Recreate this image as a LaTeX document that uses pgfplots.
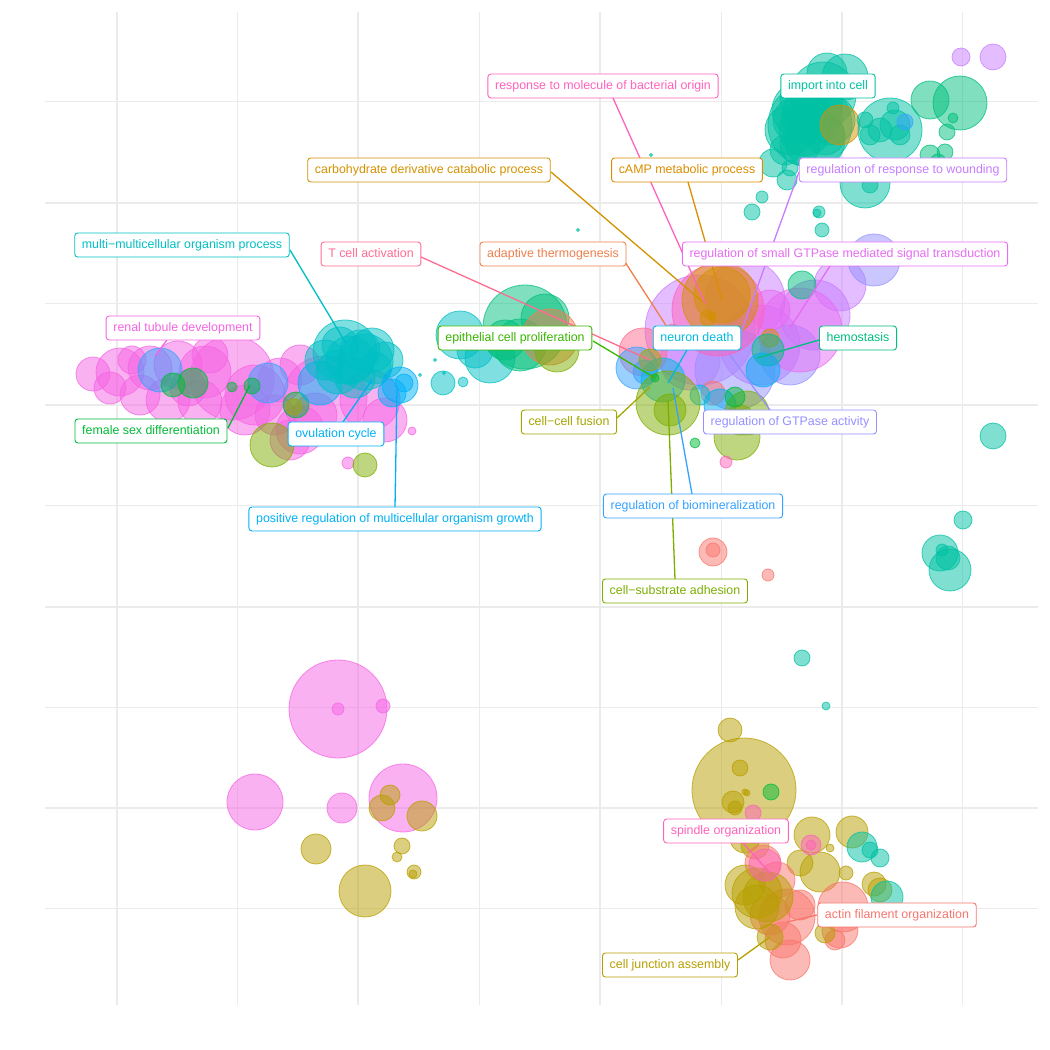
\documentclass[border=0pt]{standalone}
\usepackage{pgfplots}
\pgfplotsset{compat=1.18}
\usepackage{fontspec}
\setmainfont{Liberation Sans}
\definecolor{gridc}{HTML}{EBEBEB}
\definecolor{cSal}{HTML}{F8766D}
\definecolor{cOra}{HTML}{EE7F4B}
\definecolor{cGold}{HTML}{D39200}
\definecolor{cCamp}{HTML}{DB8E00}
\definecolor{cOlv}{HTML}{B79F00}
\definecolor{cFus}{HTML}{A3A500}
\definecolor{cSub}{HTML}{7CAE00}
\definecolor{cEpi}{HTML}{39B600}
\definecolor{cFem}{HTML}{00BA38}
\definecolor{cHem}{HTML}{00BF7D}
\definecolor{cImp}{HTML}{00C1A3}
\definecolor{cMul}{HTML}{00BFC4}
\definecolor{cNeu}{HTML}{00BAE0}
\definecolor{cOvu}{HTML}{00B0F6}
\definecolor{cBio}{HTML}{35A2FF}
\definecolor{cGtp}{HTML}{9590FF}
\definecolor{cWou}{HTML}{C77CFF}
\definecolor{cSma}{HTML}{E76BF3}
\definecolor{cRen}{HTML}{F564E3}
\definecolor{cBac}{HTML}{FF62BC}
\definecolor{cTce}{HTML}{FF6C91}
\pgfplotsset{bub/.style={scatter, only marks, mark=*, line width=0.8pt,
  scatter/use mapped color={draw=#1, fill=#1, fill opacity=0.5, draw opacity=0.75},
  visualization depends on={\thisrow{r}\as\rr},
  scatter/@pre marker code/.append style={/tikz/mark size=\rr}}}
\tikzset{lab/.style={draw=#1, text=#1, fill=white, rounded corners=3pt, line width=0.9pt,
  font=\fontsize{12.4}{14}\selectfont, inner xsep=7.2pt, inner ysep=0pt,
  minimum height=24pt, text height=9pt, text depth=2.6pt},
  seg/.style={draw=#1, line width=1.3pt}}
\begin{document}
\begin{tikzpicture}
\begin{axis}[x=1pt, y=1pt, xmin=0, xmax=1050, ymin=0, ymax=1050, y dir=reverse,
  hide axis, clip=false, scale only axis, set layers]
\path (axis cs:0,0) rectangle (axis cs:1050,1050);
\begin{pgfonlayer}{axis background}
\draw[gridc, line width=1.0pt] (axis cs:237,12) -- (axis cs:237,1005);
\draw[gridc, line width=1.0pt] (axis cs:479,12) -- (axis cs:479,1005);
\draw[gridc, line width=1.0pt] (axis cs:721,12) -- (axis cs:721,1005);
\draw[gridc, line width=1.0pt] (axis cs:962,12) -- (axis cs:962,1005);
\draw[gridc, line width=1.0pt] (axis cs:45,102) -- (axis cs:1038,102);
\draw[gridc, line width=1.0pt] (axis cs:45,304) -- (axis cs:1038,304);
\draw[gridc, line width=1.0pt] (axis cs:45,506) -- (axis cs:1038,506);
\draw[gridc, line width=1.0pt] (axis cs:45,708) -- (axis cs:1038,708);
\draw[gridc, line width=1.0pt] (axis cs:45,909) -- (axis cs:1038,909);
\draw[gridc, line width=1.9pt] (axis cs:117,12) -- (axis cs:117,1005);
\draw[gridc, line width=1.9pt] (axis cs:358,12) -- (axis cs:358,1005);
\draw[gridc, line width=1.9pt] (axis cs:600,12) -- (axis cs:600,1005);
\draw[gridc, line width=1.9pt] (axis cs:842,12) -- (axis cs:842,1005);
\draw[gridc, line width=1.9pt] (axis cs:45,203) -- (axis cs:1038,203);
\draw[gridc, line width=1.9pt] (axis cs:45,405) -- (axis cs:1038,405);
\draw[gridc, line width=1.9pt] (axis cs:45,607) -- (axis cs:1038,607);
\draw[gridc, line width=1.9pt] (axis cs:45,808) -- (axis cs:1038,808);
\end{pgfonlayer}

% renal / magenta left cluster and bottom-left
\addplot[bub=cRen] table[row sep=\\]{x y r\\
232 378 42\\ 325 398 42\\ 93 374 17\\ 120 372 24\\ 150 368 22\\ 178 365 24\\ 205 372 26\\
110 388 16\\ 140 395 20\\ 168 400 22\\ 200 402 22\\ 255 395 30\\ 280 380 22\\ 300 365 20\\
210 355 18\\ 132 360 14\\ 188 388 18\\ 370 400 30\\ 385 420 22\\ 300 430 24\\ 315 415 22\\
275 415 20\\ 245 410 25\\ 290 440 20\\ 348 463 6\\ 412 431 4\\
338 709 49\\ 338 709 6\\ 383 706 7\\ 255 802 28\\ 342 808 15\\ 403 798 34\\};
\addplot[bub=cBio] table[row sep=\\]{x y r\\ 160 370 22\\ 268 383 20\\};
\addplot[bub=cFem] table[row sep=\\]{x y r\\ 173 385 12\\ 193 383 15\\ 252 386 8\\ 232 387 5\\ 296 405 13\\};
\addplot[bub=cFus] table[row sep=\\]{x y r\\ 294 407 8\\};
\addplot[bub=cSub] table[row sep=\\]{x y r\\ 272 445 22\\ 365 465 12\\};
% multi-multicellular cluster
\addplot[bub=cOvu] table[row sep=\\]{x y r\\ 320 383 22\\};
\addplot[bub=cMul] table[row sep=\\]{x y r\\
345 352 32\\ 365 362 28\\ 372 350 22\\ 385 360 18\\ 338 372 22\\ 355 378 20\\ 325 360 20\\
350 360 24\\ 360 350 20\\ 340 345 18\\ 375 368 16\\};
\addplot[bub=cOvu] table[row sep=\\]{x y r\\ 400 385 18\\ 404 383 9\\ 392 393 14\\};
% epithelial cluster
\addplot[bub=cMul] table[row sep=\\]{x y r\\ 460 335 24\\ 490 358 25\\ 475 350 18\\
443 383 12\\ 463 382 5\\ 420 375 1.5\\ 444 373 1.5\\ 435 360 1.5\\};
\addplot[bub=cHem] table[row sep=\\]{x y r\\ 525 327 42\\ 520 345 26\\ 545 318 24\\ 505 340 20\\};
\addplot[bub=cOra] table[row sep=\\]{x y r\\ 550 337 28\\ 672 330 6\\};
\addplot[bub=cSub] table[row sep=\\]{x y r\\ 557 350 22\\};
% center cluster
\addplot[bub=cWou] table[row sep=\\]{x y r\\
700 330 55\\ 745 300 40\\ 840 285 26\\ 815 315 35\\ 690 360 30\\ 760 345 40\\};
\addplot[bub=cGtp] table[row sep=\\]{x y r\\ 874 260 26\\ 735 370 40\\ 790 355 30\\};
\addplot[bub=cSma] table[row sep=\\]{x y r\\ 800 330 42\\ 770 310 20\\};
\addplot[bub=cBac] table[row sep=\\]{x y r\\ 718 310 46\\};
\addplot[bub=cGold] table[row sep=\\]{x y r\\ 720 300 38\\ 722 295 28\\ 708 318 8\\ 712 316 4\\ 770 338 9\\};
\addplot[bub=cTce] table[row sep=\\]{x y r\\ 643 352 24\\};
\addplot[bub=cSal] table[row sep=\\]{x y r\\ 713 393 12\\};
\addplot[bub=cHem] table[row sep=\\]{x y r\\ 802 285 14\\ 768 350 16\\};
\addplot[bub=cOvu] table[row sep=\\]{x y r\\ 763 370 17\\ 720 405 16\\};
\addplot[bub=cBio] table[row sep=\\]{x y r\\ 637 368 21\\ 645 372 12\\};
\addplot[bub=cNeu] table[row sep=\\]{x y r\\ 663 380 22\\ 700 395 10\\};
\addplot[bub=cFus] table[row sep=\\]{x y r\\ 650 360 11\\};
\addplot[bub=cSub] table[row sep=\\]{x y r\\ 668 403 32\\ 670 410 16\\ 737 437 23\\ 747 413 22\\ 740 420 15\\};
\addplot[bub=cFem] table[row sep=\\]{x y r\\ 655 378 4\\ 735 397 10\\ 695 443 5\\};
\addplot[bub=cBac] table[row sep=\\]{x y r\\ 726 462 6\\};
% top-right import cluster
\addplot[bub=cImp] table[row sep=\\]{x y r\\
810 125 42\\ 823 95 33\\ 827 73 20\\ 845 77 23\\ 800 110 28\\ 815 140 30\\ 790 130 25\\
805 100 25\\ 830 120 25\\ 785 150 15\\ 800 145 20\\ 812 115 30\\ 805 130 26\\ 818 105 24\\
795 120 22\\ 825 135 20\\};
\addplot[bub=cGold] table[row sep=\\]{x y r\\ 840 125 20\\};
\addplot[bub=cImp] table[row sep=\\]{x y r\\
890 130 32\\ 880 130 12\\ 895 125 15\\ 900 135 10\\ 870 135 10\\ 865 120 8\\ 893 108 6\\
865 183 25\\ 870 185 8\\ 773 163 14\\ 787 180 10\\ 790 168 8\\ 762 197 6\\ 752 212 8\\
819 212 6\\ 817 213 4\\ 822 230 7\\ 651 155 1.5\\ 651 165 3\\ 578 230 1.5\\};
\addplot[bub=cBio] table[row sep=\\]{x y r\\ 905 122 8\\};
\addplot[bub=cHem] table[row sep=\\]{x y r\\ 930 100 19\\ 960 103 27\\ 953 118 5\\ 947 132 8\\
945 152 8\\ 930 155 10\\ 938 162 8\\};
\addplot[bub=cWou] table[row sep=\\]{x y r\\ 961 57 9\\ 993 57 13\\};
\addplot[bub=cImp] table[row sep=\\]{x y r\\ 993 436 13\\ 963 520 9\\ 940 553 18\\ 950 570 21\\
948 558 12\\ 942 550 6\\ 802 658 8\\ 826 706 4\\};
\addplot[bub=cSal] table[row sep=\\]{x y r\\ 713 552 14\\ 713 550 7\\ 768 575 6\\};
% bottom-left olive
\addplot[bub=cOlv] table[row sep=\\]{x y r\\ 390 795 10\\ 382 808 13\\ 422 816 15\\ 316 849 15\\
402 846 8\\ 397 857 5\\ 414 872 7\\ 413 874 4\\ 365 891 26\\};
% bottom-right cluster
\addplot[bub=cOlv] table[row sep=\\]{x y r\\
744 790 52\\ 730 730 12\\ 740 768 8\\ 745 792 3\\ 747 793 3\\ 733 802 11\\ 735 808 7\\
745 838 15\\ 755 845 14\\ 812 835 18\\ 852 832 16\\ 830 848 4\\ 820 872 20\\ 800 863 13\\
846 873 7\\ 874 884 12\\ 880 890 12\\};
\addplot[bub=cFem] table[row sep=\\]{x y r\\ 771 792 8\\};
\addplot[bub=cImp] table[row sep=\\]{x y r\\ 862 847 15\\ 870 850 8\\ 880 858 9\\ 887 897 16\\};
\addplot[bub=cBac] table[row sep=\\]{x y r\\ 753 813 8\\ 811 845 10\\ 811 845 5\\};
\addplot[bub=cSal] table[row sep=\\]{x y r\\ 763 863 18\\ 777 880 18\\ 787 917 28\\ 843 907 25\\
840 930 18\\ 790 960 20\\ 783 940 18\\ 835 940 10\\ 770 915 20\\ 800 905 15\\};
\addplot[bub=cOlv] table[row sep=\\]{x y r\\ 757 893 25\\ 768 897 25\\ 757 907 22\\ 745 885 20\\
825 933 10\\ 770 937 13\\};
\addplot[bub=cBac] table[row sep=\\]{x y r\\ 765 865 16\\};

\begin{pgfonlayer}{axis foreground}
% leader segments
\draw[seg=cBac] (axis cs:613,98) -- (axis cs:705,303);
\draw[seg=cGold] (axis cs:551,172) -- (axis cs:703,302);
\draw[seg=cCamp] (axis cs:688,182) -- (axis cs:722,300);
\draw[seg=cWou] (axis cs:799,172) -- (axis cs:740,335);
\draw[seg=cMul] (axis cs:290,250) -- (axis cs:347,345);
\draw[seg=cTce] (axis cs:421,257) -- (axis cs:650,360);
\draw[seg=cOra] (axis cs:625,262) -- (axis cs:667,327);
\draw[seg=cSma] (axis cs:830,266) -- (axis cs:790,328);
\draw[seg=cRen] (axis cs:167,340) -- (axis cs:155,356);
\draw[seg=cEpi] (axis cs:593,341) -- (axis cs:655,378);
\draw[seg=cNeu] (axis cs:687,350) -- (axis cs:668,383);
\draw[seg=cHem] (axis cs:819,340) -- (axis cs:757,358);
\draw[seg=cFem] (axis cs:228,428) -- (axis cs:250,385);
\draw[seg=cOvu] (axis cs:343,422) -- (axis cs:372,380);
\draw[seg=cFus] (axis cs:617,418) -- (axis cs:650,387);
\draw[seg=cGtp] (axis cs:770,410) -- (axis cs:730,355);
\draw[seg=cBio] (axis cs:692,494) -- (axis cs:673,388);
\draw[seg=cOvu] (axis cs:395,507) -- (axis cs:397,390);
\draw[seg=cSub] (axis cs:675,579) -- (axis cs:668,400);
\draw[seg=cBac] (axis cs:743,843) -- (axis cs:770,873);
\draw[seg=cSal] (axis cs:817,915) -- (axis cs:787,922);
\draw[seg=cOlv] (axis cs:738,960) -- (axis cs:770,937);
% labels
\node[lab=cBac] at (axis cs:603,86) {response to molecule of bacterial origin};
\node[lab=cImp] at (axis cs:828,86) {import into cell};
\node[lab=cGold] at (axis cs:429,170) {carbohydrate derivative catabolic process};
\node[lab=cCamp] at (axis cs:687,170) {cAMP metabolic process};
\node[lab=cWou] at (axis cs:903,170) {regulation of response to wounding};
\node[lab=cMul] at (axis cs:182,245) {multi−multicellular organism process};
\node[lab=cTce] at (axis cs:371,254) {T cell activation};
\node[lab=cOra] at (axis cs:553,254) {adaptive thermogenesis};
\node[lab=cSma] at (axis cs:845,254) {regulation of small GTPase mediated signal transduction};
\node[lab=cRen] at (axis cs:183,328) {renal tubule development};
\node[lab=cEpi] at (axis cs:515,338) {epithelial cell proliferation};
\node[lab=cNeu] at (axis cs:697,338) {neuron death};
\node[lab=cHem] at (axis cs:858,338) {hemostasis};
\node[lab=cFem] at (axis cs:151,431) {female sex differentiation};
\node[lab=cOvu] at (axis cs:336,434) {ovulation cycle};
\node[lab=cFus] at (axis cs:569,422) {cell−cell fusion};
\node[lab=cGtp] at (axis cs:790,422) {regulation of GTPase activity};
\node[lab=cBio] at (axis cs:693,506) {regulation of biomineralization};
\node[lab=cOvu] at (axis cs:395,519) {positive regulation of multicellular organism growth};
\node[lab=cSub] at (axis cs:675,591) {cell−substrate adhesion};
\node[lab=cBac] at (axis cs:726,831) {spindle organization};
\node[lab=cSal] at (axis cs:897,915) {actin filament organization};
\node[lab=cOlv] at (axis cs:670,965) {cell junction assembly};
\end{pgfonlayer}
\end{axis}
\end{tikzpicture}
\end{document}
